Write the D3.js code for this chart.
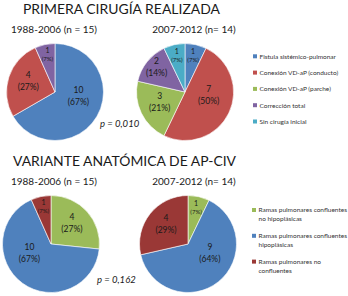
<!DOCTYPE html>
<html lang="es">
<head>
<meta charset="UTF-8">
<title>Primera cirugía / variante anatómica</title>
<script src="https://cdn.jsdelivr.net/npm/d3@7"></script>
<style>
    body { margin: 0; background: #fff; }
    text { font-family: Lato, "Open Sans", sans-serif; fill: #1a1a1a; }
    .title { font-size: 13.5px; }
    .sub { font-size: 10px; }
    .pval { font-size: 9.5px; font-style: italic; }
    .legend text { font-size: 6.5px; fill: #333; }
    path.slice { stroke: #fff; stroke-width: .6; }
</style>
</head>
<body>
<svg width="348" height="296"></svg>
<script>
    // --- data ---
    const surgeryCats = ["Fistula sistémico-pulmonar", "Conexión VD-aP (conducto)",
                         "Conexión VD-aP (parche)", "Corrección total", "Sin cirugía inicial"];
    const surgery1988 = [10, 4, 0, 1, 0];
    const surgery2007 = [1, 7, 3, 2, 1];
    const surgeryColors = ["#4F81BD", "#C0504D", "#9BBB59", "#8064A2", "#4BACC6"];

    const anatCats = [["Ramas pulmonares confluentes", "no hipoplásicas"],
                      ["Ramas pulmonares confluentes", "hipoplásicas"],
                      ["Ramas pulmonares no", "confluentes"]];
    const anat1988 = [4, 10, 1];
    const anat2007 = [1, 9, 4];
    const anatColors = ["#9BBB59", "#4F81BD", "#9A3836"];

    const titles = ["PRIMERA CIRUGÍA REALIZADA", "VARIANTE ANATÓMICA DE AP-CIV"];
    const periods = ["1988-2006 (n = 15)", "2007-2012 (n= 14)"];
    const pValues = ["p = 0,010", "p = 0,162"];

    const svg = d3.select("svg");
    const R = 48.5;
    const pie = d3.pie().sort(null);
    const arc = d3.arc().innerRadius(0).outerRadius(R);

    function drawPie(values, colors, cx, cy) {
        const total = d3.sum(values);
        const g = svg.append("g").attr("transform", `translate(${cx},${cy})`);
        const arcs = pie(values);

        g.selectAll("path.slice")
         .data(arcs.filter(d => d.value > 0))
           .join("path").attr("class", "slice")
             .attr("d", arc)
             .style("fill", d => colors[d.index]);

        // label placement roughly like Excel "best fit"
        const lab = g.selectAll("g.lab")
         .data(arcs.filter(d => d.value > 0))
           .join("g").attr("class", "lab")
             .attr("transform", d => {
                 const frac = d.value / total;
                 let a = (d.startAngle + d.endAngle) / 2, rr;
                 if (frac >= 0.5) {
                     const target = a < Math.PI ? Math.PI / 2 : 3 * Math.PI / 2;
                     a = a + 0.5 * (target - a);
                     rr = 0.5 * R;
                 } else if (frac < 0.18) {
                     rr = 0.75 * R;
                 } else {
                     rr = 0.58 * R;
                 }
                 return `translate(${rr * Math.sin(a)},${-rr * Math.cos(a)})`;
             });

        const small = d => d.value / total < 0.1;
        lab.append("text")
           .attr("text-anchor", "middle")
           .attr("y", d => small(d) ? -3 : -5)
           .style("font-size", d => small(d) ? "7px" : "8.5px")
           .text(d => d.value);
        lab.append("text")
           .attr("text-anchor", "middle")
           .attr("y", d => small(d) ? 5 : 7)
           .style("font-size", d => small(d) ? "6px" : "8.5px")
           .text(d => `(${Math.round(d.value / total * 100)}%)`);
    }

    // titles (squeezed to the width of the original narrow font)
    svg.append("text").attr("class", "title").attr("x", 23).attr("y", 14)
       .attr("textLength", 197).attr("lengthAdjust", "spacingAndGlyphs").text(titles[0]);
    svg.append("text").attr("class", "title").attr("x", 13).attr("y", 166)
       .attr("textLength", 223).attr("lengthAdjust", "spacingAndGlyphs").text(titles[1]);

    // period labels
    [[54, 32.5], [194, 32.5], [54, 184.5], [194, 185]].forEach(([x, y], i) => {
        svg.append("text").attr("class", "sub").attr("x", x).attr("y", y)
           .attr("text-anchor", "middle").text(periods[i % 2]);
    });

    drawPie(surgery1988, surgeryColors, 55, 92);
    drawPie(surgery2007, surgeryColors, 185, 92);
    drawPie(anat1988, anatColors, 51, 244);
    drawPie(anat2007, anatColors, 188, 244);

    svg.append("text").attr("class", "pval").attr("x", 100).attr("y", 127).text(pValues[0]);
    svg.append("text").attr("class", "pval").attr("x", 97).attr("y", 283).text(pValues[1]);

    // legend 1
    const leg1 = svg.append("g").attr("class", "legend")
      .selectAll("g").data(surgeryCats).join("g")
        .attr("transform", (d, i) => `translate(253,${56.3 + i * 16.3})`);
    leg1.append("rect").attr("x", 0).attr("y", -2).attr("width", 4).attr("height", 4)
        .style("fill", (d, i) => surgeryColors[i]);
    leg1.append("text").attr("x", 6.5).attr("y", 2.4).text(d => d);

    // legend 2
    const leg2 = svg.append("g").attr("class", "legend")
      .selectAll("g").data(anatCats).join("g")
        .attr("transform", (d, i) => `translate(252,${210 + i * 25.8})`);
    leg2.append("rect").attr("x", 0).attr("y", -2).attr("width", 4).attr("height", 4)
        .style("fill", (d, i) => anatColors[i]);
    leg2.selectAll("text").data(d => d).join("text")
        .attr("x", 6.5).attr("y", (d, j) => 2.4 + j * 9).text(d => d);
</script>
</body>
</html>
